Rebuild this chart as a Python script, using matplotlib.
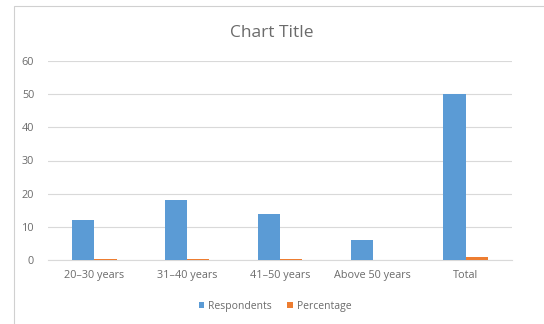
import numpy as np
import matplotlib.pyplot as plt
from matplotlib.patches import Rectangle

# Dados
categorias = ['20–30 years', '31–40 years', '41–50 years', 'Above 50 years', 'Total']
respondents = [12, 18, 14, 6, 50]
percentage = [0.24, 0.36, 0.28, 0.12, 1.0]

plt.rcParams['font.family'] = ['Open Sans', 'DejaVu Sans']
cinza = '#6b6b6b'

fig = plt.figure(figsize=(5.44, 3.24), dpi=100)

# Moldura do gráfico (cortada à direita e embaixo)
fig.patches.append(Rectangle((14 / 544, -0.05), 1.1, 1 - 6 / 324 + 0.05,
                             transform=fig.transFigure, fill=False,
                             edgecolor='#D0D0D0', linewidth=0.8))

ax = fig.add_axes([48 / 544, 1 - 260 / 324, 464 / 544, 199 / 324])

x = np.arange(len(categorias))
w = 1 / (2 + 2.19)
ax.bar(x - w / 2, respondents, w, color='#5B9BD5', label='Respondents', zorder=3)
ax.bar(x + w / 2, percentage, w, color='#ED7D31', label='Percentage', zorder=3)

ax.set_xlim(-0.5, len(categorias) - 0.5)
ax.set_ylim(0, 60)
ax.set_yticks(range(0, 61, 10))
ax.set_xticks(x)
ax.set_xticklabels(categorias)
ax.grid(axis='y', color='#D9D9D9', linewidth=0.8, zorder=0)
for s in ['top', 'right', 'left']:
    ax.spines[s].set_visible(False)
ax.spines['bottom'].set_color('#D9D9D9')
ax.tick_params(length=0, labelsize=7.8, colors=cinza)
ax.tick_params(axis='x', pad=7)
ax.tick_params(axis='y', pad=10)

fig.text(272 / 544, 1 - 33 / 324, 'Chart Title', ha='center', va='center',
         fontsize=12.5, color=cinza)

fig.legend(loc='center', bbox_to_anchor=(275 / 544, 1 - 306 / 324), ncol=2,
           frameon=False, fontsize=7.5, labelcolor=cinza, handlelength=0.5,
           handleheight=0.5, handletextpad=0.4, columnspacing=1.5)

fig.savefig('out.png', dpi=100)
